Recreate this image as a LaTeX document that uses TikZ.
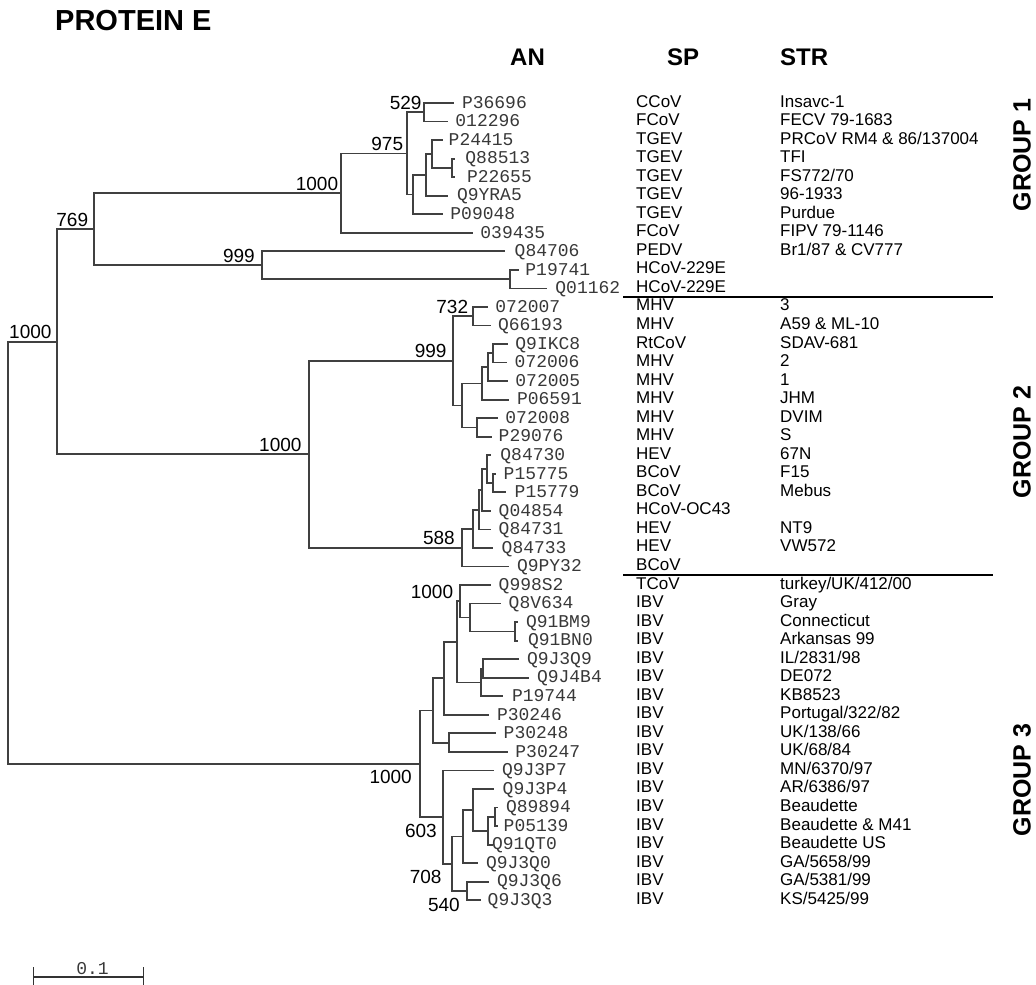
\documentclass[tikz,border=0pt]{standalone}
\usepackage{fontspec}
\setmainfont{Liberation Sans}
\newfontfamily\anfont{Liberation Mono}
\newcommand\myleaf[7]{%
  \coordinate (t#1) at (#2,#4);
  \node[anlab] (a#1) at ([xshift=-1.5pt]#3,#4) {#5};
  \node[splab] (s#1) at (636,#4+4) {#6};
  \node[splab] (r#1) at (780,#4+4) {#7};
}
\begin{document}
\begin{tikzpicture}[x=1pt,y=-1pt,
  br/.style={line width=1.8pt, draw=black!75, line cap=rect},
  anlab/.style={font=\anfont\fontsize{18}{18}\selectfont, text=black!78, inner sep=0pt, anchor=west, text height=10.5pt, text depth=0pt},
  splab/.style={font=\fontsize{17}{17}\selectfont, inner sep=0pt, anchor=base west},
  bs/.style={font=\fontsize{19}{19}\selectfont, inner sep=0pt, anchor=base east},
  hd/.style={font=\bfseries\fontsize{24}{24}\selectfont, inner sep=0pt, anchor=base west},
  grp/.style={font=\bfseries\fontsize{25}{25}\selectfont, inner sep=0pt, rotate=90},
  sepline/.style={line width=1.6pt, draw=black}]
\useasboundingbox (0,0) rectangle (1036,985);

% title and headers
\node[anchor=base west, font=\bfseries\fontsize{29}{29}\selectfont, inner sep=0pt] (title) at (55,30) {PROTEIN E};
\node[hd] (hAN) at (510,65) {AN};
\node[hd] (hSP) at (667,65) {SP};
\node[hd] (hSTR) at (780,65) {STR};

% leaves
\myleaf{0}{452.7}{463.3}{103.00}{P36696}{CCoV}{Insavc-1}
\myleaf{1}{446.7}{456.7}{121.54}{012296}{FCoV}{FECV 79-1683}
\myleaf{2}{441.7}{450.0}{140.08}{P24415}{TGEV}{PRCoV RM4 \& 86/137004}
\myleaf{3}{454.0}{466.7}{158.62}{Q88513}{TGEV}{TFI}
\myleaf{4}{454.0}{468.3}{177.16}{P22655}{TGEV}{FS772/70}
\myleaf{5}{446.7}{458.3}{195.70}{Q9YRA5}{TGEV}{96-1933}
\myleaf{6}{441.7}{451.7}{214.24}{P09048}{TGEV}{Purdue}
\myleaf{7}{471.7}{481.7}{232.78}{039435}{FCoV}{FIPV 79-1146}
\myleaf{8}{504.0}{516.0}{251.32}{Q84706}{PEDV}{Br1/87 \& CV777}
\myleaf{9}{518.3}{526.7}{269.86}{P19741}{HCoV-229E}{}
\myleaf{10}{546.0}{556.7}{288.40}{Q01162}{HCoV-229E}{}
\myleaf{11}{486.7}{496.7}{306.94}{072007}{MHV}{3}
\myleaf{12}{490.0}{499.3}{325.48}{Q66193}{MHV}{A59 \& ML-10}
\myleaf{13}{506.7}{516.7}{344.02}{Q9IKC8}{RtCoV}{SDAV-681}
\myleaf{14}{506.0}{516.0}{362.56}{072006}{MHV}{2}
\myleaf{15}{506.7}{516.7}{381.10}{072005}{MHV}{1}
\myleaf{16}{508.3}{518.3}{399.64}{P06591}{MHV}{JHM}
\myleaf{17}{496.7}{506.7}{418.18}{072008}{MHV}{DVIM}
\myleaf{18}{490.7}{500.0}{436.72}{P29076}{MHV}{S}
\myleaf{19}{490.0}{501.7}{455.26}{Q84730}{HEV}{67N}
\myleaf{20}{495.3}{505.0}{473.80}{P15775}{BCoV}{F15}
\myleaf{21}{505.0}{516.0}{492.34}{P15779}{BCoV}{Mebus}
\myleaf{22}{490.0}{500.0}{510.88}{Q04854}{HCoV-OC43}{}
\myleaf{23}{490.0}{500.0}{529.42}{Q84731}{HEV}{NT9}
\myleaf{24}{492.0}{503.0}{547.96}{Q84733}{HEV}{VW572}
\myleaf{25}{508.3}{518.3}{566.50}{Q9PY32}{BCoV}{}
\myleaf{26}{490.0}{500.0}{585.04}{Q998S2}{TCoV}{turkey/UK/412/00}
\myleaf{27}{500.0}{510.0}{603.58}{Q8V634}{IBV}{Gray}
\myleaf{28}{517.3}{527.3}{622.12}{Q91BM9}{IBV}{Connecticut}
\myleaf{29}{517.3}{529.3}{640.66}{Q91BN0}{IBV}{Arkansas 99}
\myleaf{30}{518.3}{528.3}{659.20}{Q9J3Q9}{IBV}{IL/2831/98}
\myleaf{31}{528.3}{538.3}{677.74}{Q9J4B4}{IBV}{DE072}
\myleaf{32}{501.7}{513.3}{696.28}{P19744}{IBV}{KB8523}
\myleaf{33}{488.3}{498.3}{714.82}{P30246}{IBV}{Portugal/322/82}
\myleaf{34}{495.0}{505.0}{733.36}{P30248}{IBV}{UK/138/66}
\myleaf{35}{506.7}{516.7}{751.90}{P30247}{IBV}{UK/68/84}
\myleaf{36}{493.3}{503.3}{770.44}{Q9J3P7}{IBV}{MN/6370/97}
\myleaf{37}{493.3}{504.0}{788.98}{Q9J3P4}{IBV}{AR/6386/97}
\myleaf{38}{496.7}{507.3}{807.52}{Q89894}{IBV}{Beaudette}
\myleaf{39}{496.7}{505.0}{826.06}{P05139}{IBV}{Beaudette \& M41}
\myleaf{40}{491.7}{493.3}{844.60}{Q91QT0}{IBV}{Beaudette US}
\myleaf{41}{476.7}{487.3}{863.14}{Q9J3Q0}{IBV}{GA/5658/99}
\myleaf{42}{488.3}{498.3}{881.68}{Q9J3Q6}{IBV}{GA/5381/99}
\myleaf{43}{480.0}{489.0}{900.22}{Q9J3Q3}{IBV}{KS/5425/99}

% internal nodes
\coordinate (root) at (8,552.7);
\coordinate (A) at (57,341.7);
\coordinate (n769) at (94,229.2);
\coordinate (g1) at (340.7,193.1);
\coordinate (n975) at (406.7,153.4);
\coordinate (n529) at (424,112.3);
\coordinate (na) at (413.3,194.5);
\coordinate (nb) at (425.7,174.8);
\coordinate (nc) at (431.7,154.0);
\coordinate (nd) at (451.7,167.9);
\coordinate (n999) at (262.3,265.2);
\coordinate (ne) at (510,279.1);
\coordinate (g2) at (309.3,454.2);
\coordinate (n999b) at (453.3,360.8);
\coordinate (n732) at (472.7,316.2);
\coordinate (nf) at (461.7,405.4);
\coordinate (nj) at (481.7,383.4);
\coordinate (ni) at (488.3,367.2);
\coordinate (nh) at (492.7,353.3);
\coordinate (nk) at (476.7,427.5);
\coordinate (n588) at (461.7,547.6);
\coordinate (nB) at (473.3,528.8);
\coordinate (nC) at (479.3,509.7);
\coordinate (nD) at (481.7,490.0);
\coordinate (nE) at (486.7,469.2);
\coordinate (nF) at (493.3,483.1);
\coordinate (gG) at (420,763.8);
\coordinate (gH) at (432.7,710.5);
\coordinate (gK) at (444.3,678.3);
\coordinate (gL) at (456.7,641.8);
\coordinate (gO) at (460,601.3);
\coordinate (gP) at (470,617.5);
\coordinate (gQ) at (515,631.4);
\coordinate (gM) at (480.7,682.4);
\coordinate (gN) at (483.3,668.5);
\coordinate (gI) at (449.3,742.6);
\coordinate (gR) at (443.3,817.1);
\coordinate (gS) at (451.7,863.7);
\coordinate (gT) at (462.7,836.5);
\coordinate (gU) at (472.7,809.8);
\coordinate (gV) at (488.3,830.7);
\coordinate (gW) at (495,816.8);
\coordinate (gX) at (467.3,891.0);

% branches
\foreach \p/\c in {root/A, root/gG, A/n769, A/g2, n769/g1, n769/n999,
  g1/n975, g1/t7, n975/n529, n975/na, n529/t0, n529/t1, na/nb, na/t6,
  nb/nc, nb/t5, nc/t2, nc/nd, nd/t3, nd/t4, n999/t8, n999/ne, ne/t9, ne/t10,
  g2/n999b, g2/n588, n999b/n732, n999b/nf, n732/t11, n732/t12, nf/nj, nf/nk,
  nj/ni, nj/t16, ni/nh, ni/t15, nh/t13, nh/t14, nk/t17, nk/t18,
  n588/nB, n588/t25, nB/nC, nB/t24, nC/nD, nC/t23, nD/nE, nD/t22,
  nE/t19, nE/nF, nF/t20, nF/t21,
  gG/gH, gG/gR, gH/gK, gH/gI, gK/gL, gK/t33, gL/gO, gL/gM, gO/t26, gO/gP,
  gP/t27, gP/gQ, gQ/t28, gQ/t29, gM/gN, gM/t32, gN/t30, gN/t31,
  gI/t34, gI/t35, gR/t36, gR/gS, gS/gT, gS/gX, gT/gU, gT/t41,
  gU/t37, gU/gV, gV/gW, gV/t40, gW/t38, gW/t39, gX/t42, gX/t43}
  \draw[br] (\p) |- (\c);

% bootstrap values
\node[bs] (bA) at ([xshift=-5.3pt,yshift=3pt]A) {1000};
\node[bs] (b769) at ([xshift=-5.7pt,yshift=3pt]n769) {769};
\node[bs] (bg1) at ([xshift=-2.4pt,yshift=3pt]g1) {1000};
\node[bs] (b975) at ([xshift=-3.4pt,yshift=3pt]n975) {975};
\node[bs] (b529) at ([xshift=-2.3pt,yshift=3pt]n529) {529};
\node[bs] (b999) at ([xshift=-7.3pt,yshift=3pt]n999) {999};
\node[bs] (b732) at ([xshift=-4.4pt,yshift=3pt]n732) {732};
\node[bs] (b999b) at ([xshift=-6.6pt,yshift=3pt]n999b) {999};
\node[bs] (bg2) at ([xshift=-7.6pt,yshift=3pt]g2) {1000};
\node[bs] (b588) at ([xshift=-6.7pt,yshift=3pt]n588) {588};
\node[bs] (bO) at ([xshift=-6.7pt,yshift=3pt]gO) {1000};
\node[bs] (bG) at ([xshift=-8pt,yshift=-20pt]gG) {1000};
\node[bs] (bR) at ([xshift=-6.3pt,yshift=-20.5pt]gR) {603};
\node[bs] (bS) at ([xshift=-10pt,yshift=-19.5pt]gS) {708};
\node[bs] (bX) at ([xshift=-7.3pt,yshift=-20.5pt]gX) {540};

% group separators
\coordinate (s1a) at (623,297); \coordinate (s1b) at (993,297);
\coordinate (s2a) at (623,575); \coordinate (s2b) at (993,575);
\draw[sepline] (s1a) -- (s1b);
\draw[sepline] (s2a) -- (s2b);

% group labels
\node[grp] (grp1) at (1022,155) {GROUP 1};
\node[grp] (grp2) at (1022,442) {GROUP 2};
\node[grp] (grp3) at (1022,780) {GROUP 3};

% scale bar
\coordinate (sbL) at (33.3,977); \coordinate (sbR) at (143.3,977);
\draw[line width=1.4pt, draw=black!80] (sbL) -- (sbR);
\draw[line width=1.4pt, draw=black!80] ([yshift=10pt]sbL) -- ([yshift=-10pt]sbL);
\draw[line width=1.4pt, draw=black!80] ([yshift=10pt]sbR) -- ([yshift=-10pt]sbR);
\node[font=\anfont\fontsize{18}{18}\selectfont, text=black!78, inner sep=0pt, anchor=base] (sbt) at (92.5,974) {0.1};
\end{tikzpicture}
\end{document}
